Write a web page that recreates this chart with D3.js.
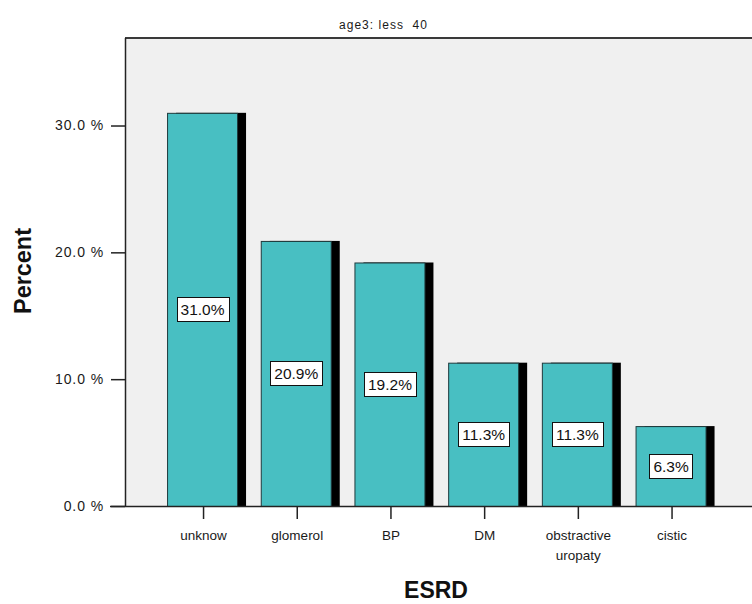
<!DOCTYPE html>
<html>
<head>
<meta charset="utf-8">
<script src="https://cdn.jsdelivr.net/npm/d3@7"></script>
<style>
  html, body { margin: 0; padding: 0; background: #ffffff; }
  svg { display: block; }
  text { font-family: "Liberation Sans", Arial, sans-serif; }
</style>
</head>
<body>
<svg id="chart" width="752" height="604"></svg>
<script>
// ESRD cause distribution, age group under 40
const categories = ["unknow", "glomerol", "BP", "DM", "obstractive\nuropaty", "cistic"];
const percents = [31.0, 20.9, 19.2, 11.3, 11.3, 6.3];
const yTicks = [0, 10, 20, 30];
const title = "age3: less  40";
const xTitle = "ESRD";
const yTitle = "Percent";

const W = 752, H = 604;
const plot = { left: 125, top: 38, right: 800, bottom: 506 };

const svg = d3.select("#chart");

const x = d3.scaleBand()
  .domain(categories)
  .range([155.2, 717.4])
  .paddingInner(0.253)
  .paddingOuter(0.1265);

const y = d3.scaleLinear()
  .domain([0, 36.9])
  .range([plot.bottom, plot.top]);

// plot background and frame
svg.append("rect")
  .attr("x", plot.left).attr("y", plot.top)
  .attr("width", plot.right - plot.left).attr("height", plot.bottom - plot.top)
  .attr("fill", "#f0f0f0");
svg.append("line")
  .attr("x1", plot.left).attr("x2", plot.right)
  .attr("y1", plot.top).attr("y2", plot.top)
  .attr("stroke", "#3a3a3a").attr("stroke-width", 2);

// bars with a black drop shadow to the right
const bars = svg.append("g");
const shadow = 9;
bars.selectAll("rect.shadow")
  .data(percents)
  .join("rect")
  .attr("class", "shadow")
  .attr("x", (d, i) => x(categories[i]) + shadow)
  .attr("y", d => y(d))
  .attr("width", x.bandwidth())
  .attr("height", d => y(0) - y(d))
  .attr("fill", "#000000");
bars.selectAll("rect.bar")
  .data(percents)
  .join("rect")
  .attr("class", "bar")
  .attr("x", (d, i) => x(categories[i]) + 0.5)
  .attr("y", d => y(d) + 0.5)
  .attr("width", x.bandwidth())
  .attr("height", d => y(0) - y(d))
  .attr("fill", "#48bfc2")
  .attr("stroke", "#1f3a3c")
  .attr("stroke-width", 1);

// value labels in white boxes at half bar height
const labels = svg.append("g");
percents.forEach((d, i) => {
  const cx = x(categories[i]) + x.bandwidth() / 2 + 0.5;
  const cy = y(d / 2);
  const g = labels.append("g");
  const t = g.append("text")
    .attr("x", cx).attr("y", cy + 5.5)
    .attr("text-anchor", "middle")
    .attr("font-size", 15.5)
    .attr("fill", "#111")
    .text(d3.format(".1f")(d) + "%");
  const w = t.node().getComputedTextLength();
  g.insert("rect", "text")
    .attr("x", Math.round(cx - w / 2 - 4) + 0.5)
    .attr("y", Math.round(cy - 12) + 0.5)
    .attr("width", Math.round(w + 8))
    .attr("height", 24)
    .attr("fill", "#ffffff")
    .attr("stroke", "#111")
    .attr("stroke-width", 1);
});

// y axis
const yAxis = svg.append("g")
  .attr("transform", `translate(${plot.left},0)`)
  .call(d3.axisLeft(y).tickValues(yTicks).tickSize(14).tickPadding(7)
    .tickFormat(d => d3.format(".1f")(d) + " %"));
yAxis.select(".domain").attr("stroke", "#222").attr("stroke-width", 1.5)
  .attr("d", `M0.5,${plot.top}V${plot.bottom}`);
yAxis.selectAll(".tick line").attr("stroke", "#222").attr("stroke-width", 1.5);
yAxis.selectAll(".tick text")
  .attr("font-family", "'Liberation Sans', Arial, sans-serif")
  .attr("font-size", 14).attr("letter-spacing", 0.9).attr("fill", "#1a1a1a");

// x axis
const xAxis = svg.append("g")
  .attr("transform", `translate(0,${plot.bottom})`)
  .call(d3.axisBottom(x).tickSize(13).tickFormat(""));
xAxis.select(".domain").attr("stroke", "#222").attr("stroke-width", 1.5)
  .attr("d", `M110,0.5H${plot.right}`);
xAxis.selectAll(".tick line").attr("stroke", "#222").attr("stroke-width", 1.5)
  .attr("transform", "translate(1.5,0)");

// category labels, split on line breaks
categories.forEach(c => {
  const lines = c.split("\n");
  const t = svg.append("text")
    .attr("x", x(c) + x.bandwidth() / 2 + 1.5)
    .attr("y", 540)
    .attr("text-anchor", "middle")
    .attr("font-size", 13.5)
    .attr("fill", "#1a1a1a");
  lines.forEach((ln, k) => {
    t.append("tspan")
      .attr("x", x(c) + x.bandwidth() / 2 + 1.5)
      .attr("dy", k === 0 ? 0 : 20)
      .text(ln);
  });
});

// titles
svg.append("text")
  .attr("x", 383).attr("y", 29)
  .attr("text-anchor", "middle")
  .attr("font-size", 12).attr("fill", "#1a1a1a")
  .attr("xml:space", "preserve")
  .attr("textLength", 88).attr("lengthAdjust", "spacing")
  .text(title);

svg.append("text")
  .attr("x", 436).attr("y", 598)
  .attr("text-anchor", "middle")
  .attr("font-size", 23).attr("font-weight", "bold").attr("fill", "#111")
  .text(xTitle);

svg.append("text")
  .attr("transform", "translate(31,271) rotate(-90)")
  .attr("text-anchor", "middle")
  .attr("font-size", 24).attr("font-weight", "bold").attr("fill", "#111")
  .attr("textLength", 86).attr("lengthAdjust", "spacingAndGlyphs")
  .text(yTitle);
</script>
</body>
</html>
